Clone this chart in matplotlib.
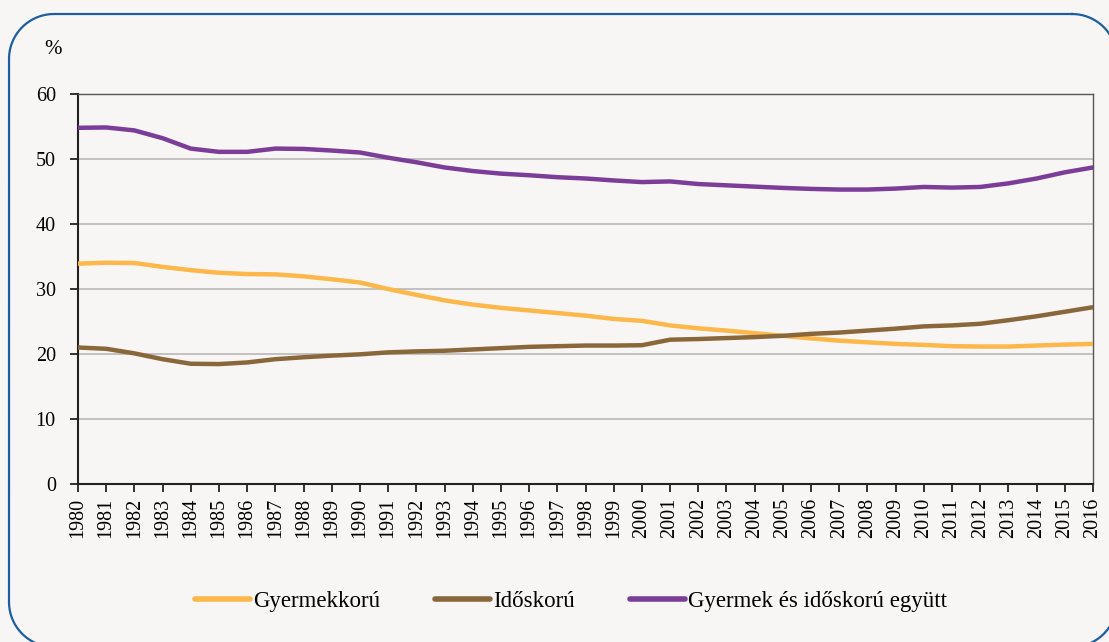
import matplotlib
matplotlib.use("Agg")
import numpy as np
import matplotlib.pyplot as plt
from matplotlib.lines import Line2D

years = list(range(1980, 2017))
gyermek = [33.9, 34.05, 34.0, 33.4, 32.9, 32.5, 32.3, 32.25, 31.95, 31.5,
           31.0, 30.0, 29.1, 28.25, 27.6, 27.1, 26.7, 26.3, 25.9, 25.4,
           25.1, 24.4, 23.95, 23.6, 23.2, 22.8, 22.4, 22.05, 21.8, 21.55,
           21.4, 21.2, 21.15, 21.15, 21.3, 21.45, 21.55]
idos = [21.0, 20.8, 20.1, 19.2, 18.5, 18.45, 18.7, 19.2, 19.5, 19.75,
        19.95, 20.25, 20.4, 20.5, 20.7, 20.9, 21.1, 21.2, 21.3, 21.3,
        21.35, 22.2, 22.3, 22.45, 22.6, 22.8, 23.1, 23.3, 23.6, 23.9,
        24.25, 24.4, 24.65, 25.2, 25.8, 26.5, 27.2]
egyutt = [54.8, 54.85, 54.4, 53.2, 51.6, 51.1, 51.1, 51.6, 51.55, 51.3,
          51.0, 50.2, 49.5, 48.7, 48.15, 47.75, 47.5, 47.2, 47.0, 46.7,
          46.45, 46.55, 46.15, 45.95, 45.75, 45.55, 45.4, 45.3, 45.3, 45.45,
          45.7, 45.6, 45.7, 46.25, 47.0, 47.95, 48.7]
labels = ["Gyermekkorú", "Időskorú", "Gyermek és időskorú együtt"]
colors = ["#FDB74A", "#8A673B", "#7B3D98"]
yticks = [0, 10, 20, 30, 40, 50, 60]

plt.rcParams['font.family'] = ['Liberation Serif', 'DejaVu Serif']
BG = "#F7F6F4"
W, H = 1109, 642

fig = plt.figure(figsize=(W / 100, H / 100), dpi=100)
fig.patch.set_facecolor(BG)

# rounded border frame, built as a polyline in pixel space (y measured from top)
def rounded_rect(x0, y0, x1, y1, r, n=40):
    pts = []
    corners = [(x1 - r, y0 + r, -90, 0), (x1 - r, y1 - r, 0, 90),
               (x0 + r, y1 - r, 90, 180), (x0 + r, y0 + r, 180, 270)]
    for cx, cy, a0, a1 in corners:
        t = np.radians(np.linspace(a0, a1, n))
        pts.extend(zip(cx + r * np.cos(t), cy + r * np.sin(t)))
    pts.append(pts[0])
    return np.array(pts)

frame = rounded_rect(9, 14, 1117, 647, 45)
fig.add_artist(Line2D(frame[:, 0] / W, 1 - frame[:, 1] / H,
                      transform=fig.transFigure, color="#1D5E9E",
                      lw=1.6, zorder=0))

ax = fig.add_axes([78 / W, (H - 484) / H, (1093 - 78) / W, (484 - 94) / H])
ax.set_facecolor(BG)

for vals, lab, col in zip([gyermek, idos, egyutt], labels, colors):
    ax.plot(years, vals, color=col, lw=3.2, label=lab,
            solid_capstyle="round", solid_joinstyle="round", zorder=3)

ax.set_xlim(1980, 2016)
ax.set_ylim(0, 60)
ax.set_yticks(yticks)
ax.set_xticks(years)
ax.set_xticklabels([str(y) for y in years], rotation=90)
ax.yaxis.grid(True, color="#BDBDBD", lw=1.3, zorder=1)
ax.set_axisbelow(True)

for s in ["left", "bottom"]:
    ax.spines[s].set_color("#222222")
    ax.spines[s].set_linewidth(1.5)
for s in ["top", "right"]:
    ax.spines[s].set_color("#555555")
    ax.spines[s].set_linewidth(1.0)

ax.tick_params(axis="y", direction="out", length=6, width=1.3,
               color="#222222", labelsize=14.5, pad=10)
ax.tick_params(axis="x", direction="out", length=6, width=1.3,
               color="#222222", labelsize=14.5, pad=4)

fig.text(53 / W, 1 - 49 / H, "%", fontsize=15, ha="center", va="center")

leg = fig.legend(loc="center", bbox_to_anchor=(571 / W, 1 - 601 / H),
                 ncol=3, frameon=False, fontsize=16.5,
                 handlelength=2.4, handletextpad=0.12, columnspacing=2.4)
for h in leg.get_lines():
    h.set_linewidth(4)
    h.set_solid_capstyle("round")

fig.savefig("out.png", dpi=100, facecolor=BG)
